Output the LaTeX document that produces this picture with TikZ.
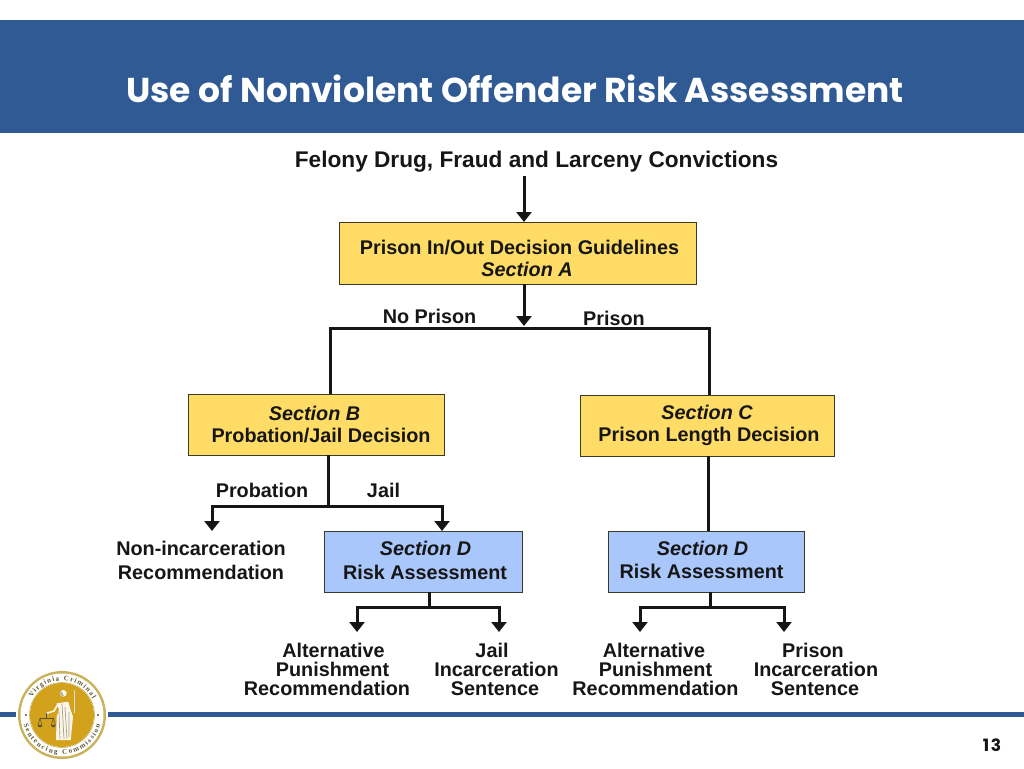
\documentclass[tikz,border=0pt]{standalone}
\usepackage{fontspec}
\setmainfont{Liberation Sans}
\newfontfamily\titlefont{Poppins}
\newfontfamily\sealfont{Liberation Serif}
\usetikzlibrary{arrows.meta,decorations.text}
\definecolor{bannerblue}{HTML}{2F5A94}
\definecolor{ruleblue}{HTML}{2F5A94}
\definecolor{boxyellow}{HTML}{FFDC66}
\definecolor{boxblue}{HTML}{A9C7FB}
\definecolor{boxedge}{HTML}{3A3A2A}
\definecolor{inkblack}{HTML}{161616}
\definecolor{sealgold}{HTML}{D3A21C}
\definecolor{sealring}{HTML}{C9B25A}
\definecolor{sealink}{HTML}{5A5230}
\newcommand\bodyfont{\fontsize{19.8}{22.5}\selectfont\bfseries}
\newcommand\shifted[2]{\hspace*{#1pt}#2}
\tikzset{
  x=1pt,y=-1pt,
  decisionbox/.style={draw=boxedge,line width=0.9pt,fill=boxyellow,inner sep=0pt,align=center,text=inkblack,font=\bodyfont},
  assessbox/.style={draw=boxedge,line width=0.9pt,fill=boxblue,inner sep=0pt,align=center,text=inkblack,font=\bodyfont},
  plainlabel/.style={inner sep=0pt,text=inkblack,font=\bodyfont,align=center},
  outlabel/.style={inner sep=0pt,text=inkblack,font=\fontsize{19.8}{19}\selectfont\bfseries,align=center},
  flowline/.style={draw=inkblack,line width=3pt},
  flowarrow/.style={flowline,-{Triangle[width=15pt,length=10pt]}},
}
\begin{document}
\begin{tikzpicture}
\useasboundingbox (0,0) rectangle (1024,768);
\fill[white] (0,0) rectangle (1024,768);
% banner
\node[fill=bannerblue,minimum width=1024pt,minimum height=113pt,inner sep=0pt,anchor=north west] (banner) at (0,20) {};
\node[inner sep=0pt,text=white] (title) at (515,88.5) {\titlefont\fontsize{34.5}{38}\selectfont\bfseries Use of Nonviolent Offender Risk Assessment};
% top text
\node[plainlabel,font=\fontsize{22.65}{26}\selectfont\bfseries] (source) at (536.5,162) {Felony Drug, Fraud and Larceny Convictions};
% boxes
\node[decisionbox,minimum width=357pt,minimum height=62pt] (secA) at (517.5,253) {\rule{0pt}{25pt}\shifted{4}{Prison In/Out Decision Guidelines}\\\shifted{19}{\itshape Section A}};
\node[decisionbox,minimum width=256pt,minimum height=61pt] (secB) at (316,424.5) {\shifted{-3}{\itshape Section B}\\\shifted{10}{Probation/Jail Decision}};
\node[decisionbox,minimum width=254pt,minimum height=61pt] (secC) at (707,425.5) {{\itshape Section C}\\\shifted{4}{Prison Length Decision}};
\node[assessbox,minimum width=198pt,minimum height=61pt] (secDa) at (423,561.5) {\shifted{5}{\itshape Section D}\\[1.5pt]\shifted{4}{Risk Assessment}\rule[-3pt]{0pt}{3pt}};
\node[assessbox,minimum width=196pt,minimum height=61pt] (secDb) at (706,561.5) {\shifted{-7}{\itshape Section D}\\\shifted{-9}{Risk Assessment}\rule[-3pt]{0pt}{3pt}};
% labels
\node[plainlabel] (noprison) at (429.5,316.5) {No Prison};
\node[plainlabel] (prison) at (614,318) {Prison};
\node[plainlabel] (probation) at (262,490.5) {Probation};
\node[plainlabel] (jail) at (383.5,490.5) {Jail};
\node[plainlabel,font=\fontsize{19.8}{24}\selectfont\bfseries] (nonincar) at (201,560) {Non-incarceration\\Recommendation};
\node[outlabel] (altA) at (330,669) {\shifted{7}{Alternative}\\\shifted{5}{Punishment}\\\shifted{-6}{Recommendation}};
\node[outlabel] (jailS) at (495,669) {\shifted{-6}{Jail}\\\shifted{3}{Incarceration}\\Sentence};
\node[outlabel] (altB) at (655.5,669) {\shifted{-3}{Alternative}\\Punishment\\Recommendation};
\node[outlabel] (prisonS) at (815,669) {\shifted{-4}{Prison}\\\shifted{2}{Incarceration}\\Sentence};
% junctions
\coordinate (srcstart) at (524,176);
\coordinate (Ain) at (524,222);
\coordinate (Aout) at (524,284);
\coordinate (Atip) at (524,326);
\coordinate (barL) at (330,328);
\coordinate (barR) at (709,328);
\coordinate (Bin) at (330,394);
\coordinate (Cin) at (709,395);
\coordinate (Bout) at (328,455);
\coordinate (Bj) at (328,506);
\coordinate (pL) at (212,506);
\coordinate (pLtip) at (212,531);
\coordinate (pR) at (442,506);
\coordinate (pRtip) at (442,531);
\coordinate (Cout) at (708,456);
\coordinate (Dbin) at (708,531);
\coordinate (Daout) at (429,592);
\coordinate (Daj) at (429,607);
\coordinate (aL) at (357,607);
\coordinate (aLtip) at (357,632);
\coordinate (aR) at (499,607);
\coordinate (aRtip) at (499,632);
\coordinate (Dbout) at (710,592);
\coordinate (Dbj) at (710,607);
\coordinate (bL) at (640,607);
\coordinate (bLtip) at (640,632);
\coordinate (bR) at (784,607);
\coordinate (bRtip) at (784,632);
% connectors
\draw[flowarrow] (srcstart) -- (Ain);
\draw[flowarrow] (Aout) -- (Atip);
\draw[flowline,line join=miter] (Bin) -- (barL) -- (barR) -- (Cin);
\draw[flowline] (Bout) -- (Bj);
\draw[flowarrow] (Bj) -- (pL) -- (pLtip);
\draw[flowarrow] (Bj) -- (pR) -- (pRtip);
\draw[flowline] (Cout) -- (Dbin);
\draw[flowline] (Daout) -- (Daj);
\draw[flowarrow] (Daj) -- (aL) -- (aLtip);
\draw[flowarrow] (Daj) -- (aR) -- (aRtip);
\draw[flowline] (Dbout) -- (Dbj);
\draw[flowarrow] (Dbj) -- (bL) -- (bLtip);
\draw[flowarrow] (Dbj) -- (bR) -- (bRtip);
% footer rule
\fill[ruleblue] (0,712) rectangle (1024,716.5);
% seal
\begin{scope}[shift={(62,715)},x=1pt,y=1pt]
  \fill[white] (0,0) circle (46);
  \fill[sealring] (0,0) circle (44);
  \fill[white] (0,0) circle (41.5);
  \fill[sealgold] (0,0) circle (32);
  \draw[sealring,line width=0.6pt] (0,0) circle (32.5);
  \fill[sealink] (-36,0) circle (1.2) (36,0) circle (1.2);
  \path[decorate,decoration={text along path,text align={fit to path},
        text={|\sealfont\fontsize{7}{7}\selectfont\bfseries\color{sealink}|Virginia Criminal}}]
     (150:34.5) arc[start angle=150,end angle=28,radius=34.5];
  \path[decorate,decoration={text along path,text align={fit to path},
        text={|\sealfont\fontsize{7}{7}\selectfont\bfseries\color{sealink}|Sentencing Commission}}]
     (194:39.5) arc[start angle=194,end angle=346,radius=39.5];
  % figure of Justice
  \fill[white!90!sealgold] (-5.3,11.7) -- (6.3,13.3) -- (9,4) -- (11,-1.7) -- (8.7,-25) -- (-6,-25) -- (-5.3,-1.7) -- (-3,5) -- cycle;
  \draw[white!45!sealink,line width=0.7pt] (0,11) -- (2,-24) (3,8) -- (5,-24) (-3,3) -- (-2,-24) (7,3) -- (7,-22);
  \fill[white!90!sealgold] (1.3,21.7) circle (3.4);
  \fill[white!50!sealink] (-1,24) arc[start angle=140,end angle=280,radius=3.2] -- cycle;
  \draw[white!90!sealgold,line width=1.6pt,line cap=round] (-4,11) -- (-8,4) -- (-15.3,1.7);
  \draw[sealink,line width=0.5pt] (-15.3,2) -- (-15.3,-3.3) (-22,-3.3) -- (-8.7,-3.3);
  \draw[sealink,line width=0.5pt] (-22,-3.3) -- (-24,-10) -- (-20,-10) -- cycle (-8.7,-3.3) -- (-10.7,-10) -- (-6.7,-10) -- cycle;
  \fill[sealink] (-24.3,-10) arc[start angle=180,end angle=360,radius=2.3] -- cycle (-11,-10) arc[start angle=180,end angle=360,radius=2.3] -- cycle;
  \draw[white!80!sealink,line width=0.9pt] (12,25) -- (12,1.7);
\end{scope}
% page number
\node[inner sep=0pt,text=inkblack] (pagenum) at (992,745) {\titlefont\fontsize{17}{18}\selectfont\bfseries\addfontfeature{LetterSpace=10}13};
\end{tikzpicture}
\end{document}
